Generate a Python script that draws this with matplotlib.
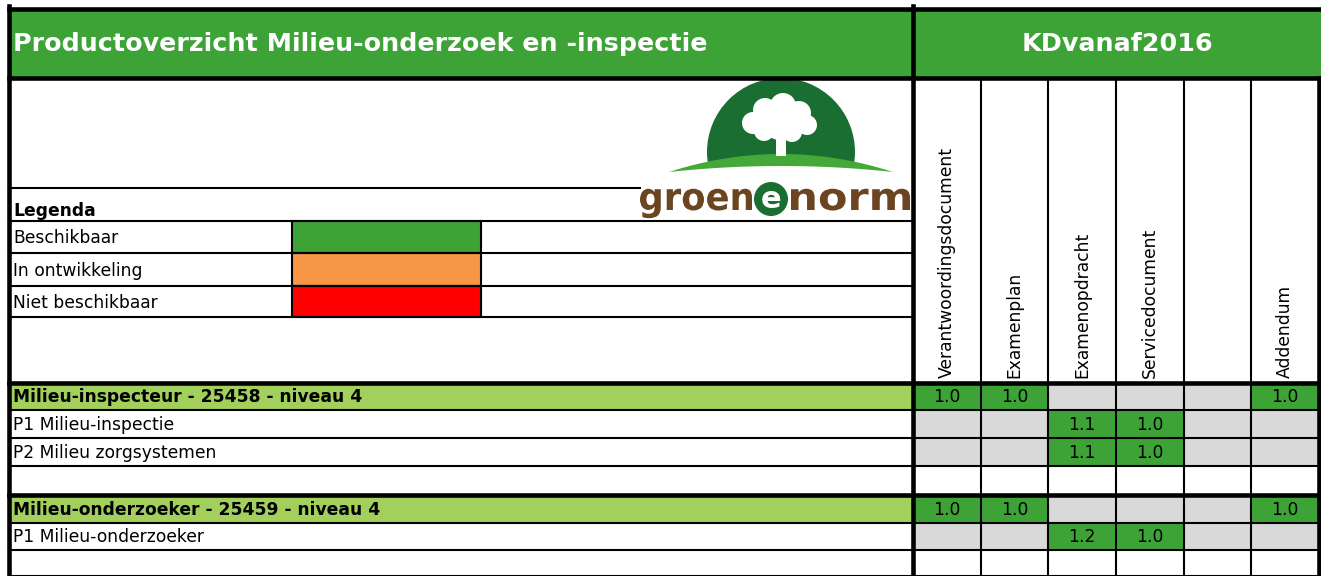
import numpy as np
import matplotlib
matplotlib.use("Agg")
import matplotlib.pyplot as plt
from matplotlib.patches import Rectangle, Circle, Polygon, PathPatch
from matplotlib.textpath import TextPath
from matplotlib.font_manager import FontProperties
from matplotlib.transforms import Affine2D

# data to show
title = "Productoverzicht Milieu-onderzoek en -inspectie"
kd_title = "KDvanaf2016"
doc_columns = ["Verantwoordingsdocument", "Examenplan", "Examenopdracht",
               "Servicedocument", "", "Addendum"]
legend_labels = ["Beschikbaar", "In ontwikkeling", "Niet beschikbaar"]
legend_colors = ["#3EA337", "#F79646", "#FF0000"]
row_labels = ["Milieu-inspecteur - 25458 - niveau 4",
              "P1 Milieu-inspectie",
              "P2 Milieu zorgsystemen",
              "",
              "Milieu-onderzoeker - 25459 - niveau 4",
              "P1 Milieu-onderzoeker",
              ""]
row_kinds = ["group", "item", "item", "blank", "group", "item", "blank"]
row_versions = [
    ["1.0", "1.0", "", "", "", "1.0"],
    ["", "", "1.1", "1.0", "", ""],
    ["", "", "1.1", "1.0", "", ""],
    ["", "", "", "", "", ""],
    ["1.0", "1.0", "", "", "", "1.0"],
    ["", "", "1.2", "1.0", "", ""],
    ["", "", "", "", "", ""],
]

# colours
green = "#3EA337"
light_green = "#A3CF5C"
grey = "#D9D9D9"
brown = "#6B4420"
dark_green = "#1B6E31"

# layout (pixels)
W, H = 1321, 576
x_left, x_split, x_right = 8.5, 913, 1319
col_edges = np.linspace(x_split, x_right, len(doc_columns) + 1)
row_edges = [383, 410, 438, 466, 495, 523, 550, 576]
thick = 3.3
thin = 1.5
fs = 12.3

fig = plt.figure(figsize=(W / 100, H / 100), dpi=100)
ax = fig.add_axes([0, 0, 1, 1])
ax.set_xlim(0, W)
ax.set_ylim(H, 0)
ax.axis("off")

# header band
ax.add_patch(Rectangle((x_left, 8.5), W - x_left, 69, color=green, lw=0))
ax.text(13, 44, title, fontsize=18.3, fontweight="bold", color="white",
        ha="left", va="center")
ax.text((x_split + W) / 2, 44, kd_title, fontsize=18.3, fontweight="bold",
        color="white", ha="center", va="center")

# logo
cx = 781
hill_x = np.linspace(668, 892, 60)
hill_top = 154 + 18 * ((hill_x - cx) / 112) ** 2
hill_bot = 166 + 6 * ((hill_x - cx) / 112) ** 2
clip = Polygon(np.vstack([np.column_stack([hill_x, hill_top + 2]),
                          [[892, 60], [668, 60]]]),
               closed=True, transform=ax.transData)
dome = Circle((cx, 152), 74, color=dark_green, lw=0)
ax.add_patch(dome)
dome.set_clip_path(clip)
ax.add_patch(Polygon(np.vstack([np.column_stack([hill_x, hill_top]),
                                np.column_stack([hill_x[::-1], hill_bot[::-1]])]),
                     closed=True, color="#45A93A", lw=0))
ax.add_patch(Rectangle((cx - 5, 132), 10, 24, color="white", lw=0))
for (bx, by, br) in [(765, 110, 12), (783, 106, 13), (799, 113, 12),
                     (753, 123, 11), (807, 125, 10), (764, 131, 10),
                     (792, 132, 10), (780, 122, 18)]:
    ax.add_patch(Circle((bx, by), br, color="white", lw=0))


def logo_word(word, x0, x1, base, em):
    tp = TextPath((0, 0), word, size=1, prop=FontProperties(weight="bold"))
    ext = tp.get_extents()
    sx = (x1 - x0) / ext.width
    tr = Affine2D().translate(-ext.x0, 0).scale(sx, -em).translate(x0, base)
    ax.add_patch(PathPatch(tr.transform_path(tp), color=brown, lw=0))


logo_word("groen", 640, 752, 210, 38)
logo_word("norm", 791, 910, 210, 38)
ax.add_patch(Circle((771, 199), 17, color=dark_green, lw=0))
ax.text(771, 200, "e", fontsize=22, fontweight="bold", color="white",
        ha="center", va="center")

# legend
ax.text(13, 211, "Legenda", fontsize=fs, fontweight="bold", ha="left",
        va="center")
leg_edges = [221, 253, 286, 317]
for i, (lab, col) in enumerate(zip(legend_labels, legend_colors)):
    y0, y1 = leg_edges[i], leg_edges[i + 1]
    ax.add_patch(Rectangle((292, y0), 189, y1 - y0, facecolor=col,
                           edgecolor="black", lw=thin))
    ax.text(13, (y0 + y1) / 2 + 1, lab, fontsize=fs, ha="left", va="center")
ax.plot([x_left, 640], [188, 188], color="black", lw=thin)
for y in leg_edges:
    ax.plot([x_left, x_split], [y, y], color="black", lw=thin)

# rotated column headers
for i, name in enumerate(doc_columns):
    xc = (col_edges[i] + col_edges[i + 1]) / 2
    ax.text(xc, 378, name, fontsize=fs, rotation=90, ha="center", va="bottom")

# body rows
for r, (lab, kind, vers) in enumerate(zip(row_labels, row_kinds, row_versions)):
    y0, y1 = row_edges[r], row_edges[r + 1]
    yc = (y0 + y1) / 2
    if kind == "group":
        ax.add_patch(Rectangle((x_left, y0), x_split - x_left, y1 - y0,
                               color=light_green, lw=0))
    for c, v in enumerate(vers):
        if kind == "blank":
            continue
        fill = green if v else grey
        ax.add_patch(Rectangle((col_edges[c], y0), col_edges[c + 1] - col_edges[c],
                               y1 - y0, color=fill, lw=0))
        if v:
            ax.text((col_edges[c] + col_edges[c + 1]) / 2, yc + 1, v,
                    fontsize=fs, ha="center", va="center")
    if lab:
        ax.text(13, yc + 1, lab, fontsize=fs, ha="left", va="center",
                fontweight="bold" if kind == "group" else "normal")

# grid lines
for r, y in enumerate(row_edges[:-1]):
    lw = thick if row_kinds[r] == "group" else thin
    ax.plot([x_left, x_right], [y, y], color="black", lw=lw)
ax.plot([x_left, x_right], [row_edges[-1] - 0.5] * 2, color="black", lw=thin)
for x in col_edges[1:-1]:
    ax.plot([x, x], [77.5, H], color="black", lw=thin)
ax.plot([x_right, x_right], [77.5, H], color="black", lw=thick)
ax.plot([x_split, x_split], [6, H], color="black", lw=thick)
ax.plot([x_left, x_left], [6, H], color="black", lw=thick)
ax.plot([x_left, W], [8.5, 8.5], color="black", lw=thick)
ax.plot([x_left, W], [77.5, 77.5], color="black", lw=thick)

fig.savefig("out.png", dpi=100)
